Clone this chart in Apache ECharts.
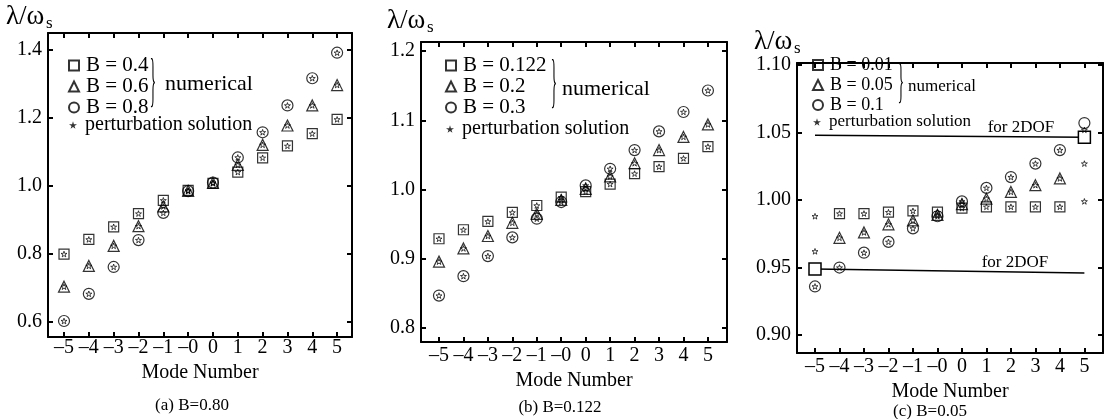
<!DOCTYPE html>
<html>
<head>
<meta charset="utf-8">
<script src="https://cdn.jsdelivr.net/npm/echarts@6/dist/echarts.min.js"></script>
<style>
html, body { margin: 0; padding: 0; background: #fff; }
#main { width: 1105px; height: 419px; }
</style>
</head>
<body>
<div id="main"></div>
<script>
// mode numbers, shared by the three panels (index 0 = -5)
const xLabels = ['–5', '–4', '–3', '–2', '–1', '–0', '0', '1', '2', '3', '4', '5'];

// (a) B=0.80
const aYTicks = [0.6, 0.8, 1.0, 1.2, 1.4];
const aSquare = [0.800, 0.843, 0.880, 0.919, 0.958, 0.987, 1.008, 1.041, 1.083, 1.118, 1.154, 1.196];   // B = 0.4
const aTriangle = [0.704, 0.765, 0.824, 0.882, 0.940, 0.986, 1.009, 1.062, 1.121, 1.178, 1.237, 1.297]; // B = 0.6
const aCircle = [0.603, 0.683, 0.762, 0.841, 0.921, 0.985, 1.010, 1.084, 1.158, 1.237, 1.317, 1.392];   // B = 0.8

// (b) B=0.122
const bYTicks = [0.8, 0.9, 1.0, 1.1, 1.2];
const bSquare = [0.929, 0.942, 0.954, 0.967, 0.977, 0.989, 0.997, 1.008, 1.023, 1.033, 1.045, 1.062];   // B = 0.122
const bTriangle = [0.896, 0.915, 0.933, 0.952, 0.965, 0.985, 1.001, 1.019, 1.038, 1.057, 1.076, 1.094]; // B = 0.2
const bCircle = [0.847, 0.875, 0.904, 0.931, 0.958, 0.982, 1.006, 1.030, 1.057, 1.084, 1.112, 1.143];   // B = 0.3

// (c) B=0.05
const cYTicks = [0.90, 0.95, 1.00, 1.05, 1.10];
const cSquare = [null, 0.990, 0.990, 0.991, 0.992, 0.991, 0.994, 0.995, 0.995, 0.995, 0.995, null];     // B = 0.01
const cTriangle = [null, 0.972, 0.976, 0.982, 0.985, 0.989, 0.997, 1.001, 1.006, 1.011, 1.016, null];   // B = 0.05
const cCircle = [0.936, 0.950, 0.961, 0.969, 0.979, 0.988, 0.999, 1.009, 1.017, 1.027, 1.037, 1.057];   // B = 0.1
const cStar1 = [0.988, 0.990, 0.990, 0.991, 0.992, 0.991, 0.994, 0.995, 0.995, 0.995, 0.995, 0.999];
const cStar2 = [0.962, 0.972, 0.976, 0.982, 0.985, 0.989, 0.997, 1.001, 1.006, 1.011, 1.016, 1.027];
const cStar3 = [0.936, 0.950, 0.961, 0.969, 0.979, 0.988, 0.999, 1.009, 1.017, 1.027, 1.037, 1.052];
// 2DOF results (mode index, value)
const cDofUpper = [[0, 1.048], [11, 1.0465]];
const cDofLower = [[0, 0.949], [11, 0.946]];

const serif = 'Liberation Serif';
const starPath = 'path://M50,0L61,35L98,35L68,57L79,91L50,70L21,91L32,57L2,35L39,35Z';
const hollow = { color: 'rgba(0,0,0,0)', borderColor: '#000', borderWidth: 1.2 };

function pts(arr) {
  return arr.map((v, i) => (v == null ? null : [i, v])).filter(Boolean);
}

const panels = [
  { left: 48, top: 33, width: 304, height: 304, xMin: -0.645, xMax: 11.6, yMin: 0.556, yMax: 1.45,
    yTicks: aYTicks, dec: 1, xMargin: 1, nameGap: 23,
    names: ['B = 0.4', 'B = 0.6', 'B = 0.8'], data: [aSquare, aTriangle, aCircle],
    stars: [aSquare, aTriangle, aCircle] },
  { left: 421, top: 42, width: 306, height: 300, xMin: -0.736, xMax: 11.78, yMin: 0.780, yMax: 1.213,
    yTicks: bYTicks, dec: 1, xMargin: 4, nameGap: 26,
    names: ['B = 0.122', 'B = 0.2', 'B = 0.3'], data: [bSquare, bTriangle, bCircle],
    stars: [bSquare, bTriangle, bCircle] },
  { left: 797, top: 63, width: 306, height: 290, xMin: -0.735, xMax: 11.76, yMin: 0.8867, yMax: 1.1015,
    yTicks: cYTicks, dec: 2, xMargin: 4, nameGap: 24,
    names: ['B = 0.01', 'B = 0.05', 'B = 0.1'], data: [cSquare, cTriangle, cCircle],
    stars: [cStar1, cStar2, cStar3] }
];

const symbols = ['rect', 'triangle', 'circle'];
const sizes = [10, 11, 11];
const idx = xLabels.map((_, i) => i);

const grid = [], xAxis = [], yAxis = [], series = [], legend = [];

panels.forEach((p, i) => {
  grid.push({ left: p.left, top: p.top, width: p.width, height: p.height, show: false });
  const line = { show: true, onZero: false, lineStyle: { color: '#000', width: 2 } };
  const xt = { show: true, inside: true, length: 5, customValues: idx, lineStyle: { color: '#000', width: 2 } };
  const yt = { show: true, inside: true, length: 5, customValues: p.yTicks, lineStyle: { color: '#000', width: 2 } };
  ['bottom', 'top'].forEach(pos => xAxis.push({
    type: 'value', gridIndex: i, min: p.xMin, max: p.xMax, position: pos,
    axisLine: line, splitLine: { show: false }, axisTick: xt,
    name: pos === 'bottom' ? 'Mode Number' : '', nameLocation: 'middle', nameGap: p.nameGap,
    nameTextStyle: { fontFamily: serif, fontSize: 20, color: '#000' },
    axisLabel: { show: pos === 'bottom', customValues: idx, margin: p.xMargin,
      fontFamily: serif, fontSize: 20, color: '#000', formatter: v => xLabels[Math.round(v)] }
  }));
  ['left', 'right'].forEach(pos => yAxis.push({
    type: 'value', gridIndex: i, min: p.yMin, max: p.yMax, position: pos,
    axisLine: line, splitLine: { show: false }, axisTick: yt,
    axisLabel: { show: pos === 'left', customValues: p.yTicks, margin: 6,
      fontFamily: serif, fontSize: 20, color: '#000', formatter: v => v.toFixed(p.dec) }
  }));

  p.data.forEach((arr, k) => {
    series.push({ type: 'scatter', name: p.names[k], xAxisIndex: 2 * i, yAxisIndex: 2 * i,
      symbol: symbols[k], symbolSize: sizes[k], symbolKeepAspect: true,
      itemStyle: hollow, data: pts(arr), z: 3 });
  });
  p.stars.forEach(arr => {
    series.push({ type: 'scatter', name: 'perturbation solution', xAxisIndex: 2 * i, yAxisIndex: 2 * i,
      symbol: starPath, symbolSize: 6, symbolKeepAspect: true,
      itemStyle: { color: 'rgba(0,0,0,0)', borderColor: '#000', borderWidth: 0.9 },
      data: pts(arr), z: 4 });
  });

  const small = i === 2;
  const lx = [68, 445, 812][i];
  legend.push({ data: p.names, orient: 'vertical', left: lx, top: 55, padding: 0,
    itemGap: 0, itemWidth: 10, itemHeight: 10, selectedMode: false,
    textStyle: { fontFamily: serif, fontSize: small ? 18 : 21, lineHeight: small ? 20 : 19.5, color: '#000',
      padding: [0, 0, 0, 2] } });
  legend.push({ data: ['perturbation solution'], orient: 'vertical', left: lx + 1,
    top: [115, 119, 113][i], padding: 0, itemGap: 0, itemWidth: 8, itemHeight: 8, selectedMode: false,
    itemStyle: { color: '#000', borderWidth: 0 },
    textStyle: { fontFamily: serif, fontSize: small ? 17 : 20, lineHeight: 18, color: '#000',
      padding: [0, 0, 0, 3] } });
});

// 2DOF lines in panel (c)
series.push({ type: 'line', name: '2DOF upper', xAxisIndex: 4, yAxisIndex: 4, data: cDofUpper,
  symbol: 'rect', symbolSize: (v, prm) => (prm.dataIndex === 1 ? 12 : 0), showSymbol: true,
  itemStyle: { color: '#fff', borderColor: '#000', borderWidth: 1.5 },
  lineStyle: { color: '#000', width: 1.5 }, z: 2 });
series.push({ type: 'line', name: '2DOF lower', xAxisIndex: 4, yAxisIndex: 4, data: cDofLower,
  symbol: 'rect', symbolSize: (v, prm) => (prm.dataIndex === 0 ? 12 : 0), showSymbol: true,
  itemStyle: { color: '#fff', borderColor: '#000', borderWidth: 1.5 },
  lineStyle: { color: '#000', width: 1.5 }, z: 2 });

function txt(x, y, text, size) {
  return { type: 'text', x: x, y: y, silent: true,
    style: { text: text, font: size + 'px "' + serif + '"', fill: '#000',
      textAlign: 'left', textVerticalAlign: 'middle' } };
}
function centered(x, y, text, size) {
  const t = txt(x, y, text, size);
  t.style.textAlign = 'center';
  return t;
}
function brace(x, y, sy) {
  const t = centered(x, y, '}', 22);
  t.scaleX = 0.6;
  t.scaleY = sy;
  return t;
}

const graphic = [
  // axis titles
  txt(6, 17, 'λ/ω', 27), txt(46, 24, 's', 17),
  txt(387, 21, 'λ/ω', 27), txt(427, 28, 's', 17),
  txt(754, 42, 'λ/ω', 27), txt(794, 49, 's', 17),
  // braces and "numerical"
  brace(153, 83, 2.7), txt(165, 84, 'numerical', 22),
  brace(554, 84, 2.7), txt(562, 89, 'numerical', 22),
  brace(901, 84, 2.2), txt(908, 87, 'numerical', 17),
  // 2DOF labels
  centered(1021, 128, 'for 2DOF', 17),
  centered(1015, 263, 'for 2DOF', 17),
  // captions
  centered(192, 406, '(a) B=0.80', 17),
  centered(560, 408, '(b) B=0.122', 17),
  centered(930, 412, '(c) B=0.05', 17)
];

const chart = echarts.init(document.getElementById('main'));
chart.setOption({
  backgroundColor: '#fff',
  animation: false,
  grid: grid,
  xAxis: xAxis,
  yAxis: yAxis,
  legend: legend,
  series: series,
  graphic: graphic
});
</script>
</body>
</html>
